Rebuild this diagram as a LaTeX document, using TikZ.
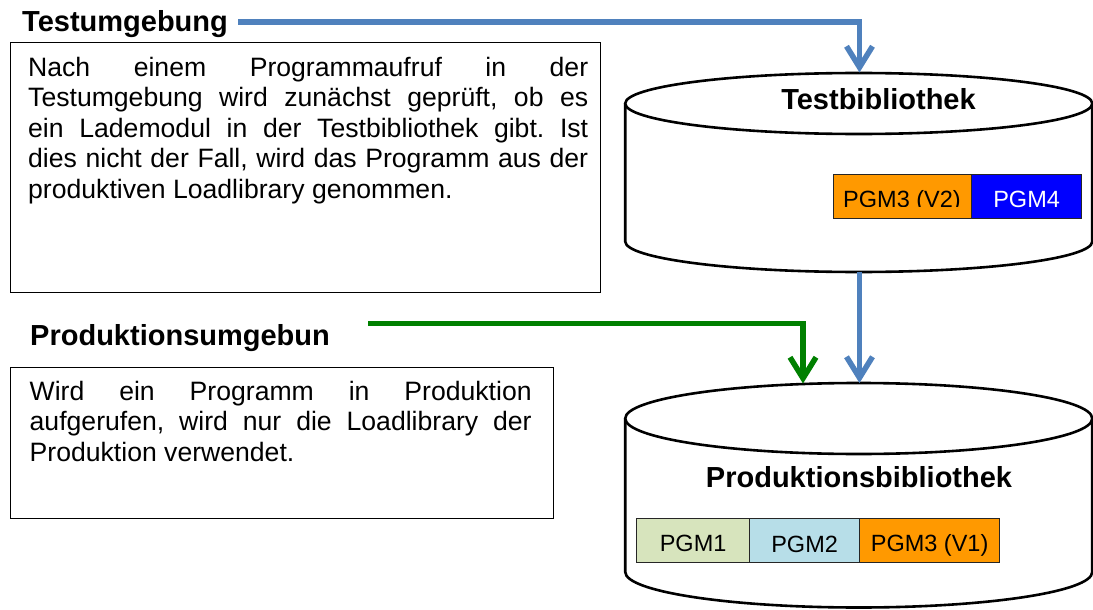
\documentclass[tikz,border=0pt]{standalone}
\usepackage{fontspec}
\setmainfont{Liberation Sans}
\usetikzlibrary{arrows.meta}

\definecolor{flowblue}{RGB}{79,129,189}
\definecolor{flowgreen}{RGB}{0,128,0}
\definecolor{pgmorange}{RGB}{255,153,0}
\definecolor{pgmblue}{RGB}{0,0,255}
\definecolor{pgmgreen}{RGB}{215,228,189}
\definecolor{pgmcyan}{RGB}{183,222,232}

\newcommand\bodyfont{\fontsize{26.6}{30.5}\selectfont}
\newcommand\headfont{\fontsize{29}{34}\selectfont\bfseries}
\newcommand\pgmfont{\fontsize{23.5}{28}\selectfont}
\frenchspacing

\begin{document}
\begin{tikzpicture}[x=1pt,y=-1pt,
  title/.style={font=\headfont, inner sep=0pt, anchor=base west},
  cyllabel/.style={font=\headfont, inner sep=0pt, anchor=base},
  descbox/.style={draw=black, line width=1.3pt},
  desctext/.style={font=\bodyfont, inner sep=0pt, anchor=base west},
  cyl/.style={draw=black, line width=2.6pt, fill=white},
  pgmbox/.style={draw=black!85, line width=1.2pt, inner sep=0pt,
    minimum height=44pt, anchor=north west, font=\pgmfont,
    text height=22pt, text depth=0pt},
  flow/.style={line width=5.5pt, -{Straight Barb[length=21pt,width=26pt]}}]

% canvas
\fill[white] (0,0) rectangle (1093,610);
\useasboundingbox (0,0) rectangle (1093,610);

% ---------- test environment ----------
\node[title] (tu) at (22,32) {Testumgebung};
\node[descbox, anchor=north west, minimum width=590pt, minimum height=249.5pt,
  inner sep=0pt] (box1) at (10,42) {};
\node[desctext] (txt1) at (28,76.5) {\parbox[t]{560pt}{%
  \makebox[560pt][s]{Nach einem Programmaufruf in der}\\
  \makebox[560pt][s]{Testumgebung wird zunächst geprüft, ob es}\\
  \makebox[560pt][s]{ein Lademodul in der Testbibliothek gibt. Ist}\\
  \makebox[560pt][s]{dies nicht der Fall, wird das Programm aus der}\\
  produktiven Loadlibrary genommen.}};

% ---------- production environment ----------
\node[title] (pu) at (30,345) {Produktionsumgebun};
\node[descbox, anchor=north west, minimum width=543pt, minimum height=151.5pt,
  inner sep=0pt] (box2) at (10,366.5) {};
\node[desctext] (txt2) at (29.5,400) {\parbox[t]{502pt}{%
  \makebox[502pt][s]{Wird ein Programm in Produktion}\\
  \makebox[502pt][s]{aufgerufen, wird nur die Loadlibrary der}\\
  Produktion verwendet.}};

% ---------- test library cylinder ----------
\draw[cyl] (625.25,103.5) -- (625.25,241.5)
  arc[start angle=180, end angle=0, x radius=233.5, y radius=30.5]
  -- (1092.25,103.5);
\draw[cyl] (858.75,103.5) ellipse[x radius=233.5, y radius=30.5];
\coordinate (ttop) at (859.5,72.5);
\coordinate (tbot) at (859.5,271.5);
\node[cyllabel] (tlib) at (878.5,110) {Testbibliothek};

\node[pgmbox, fill=pgmorange, minimum width=138pt] (v2) at (833,174) {};
\begin{scope}
  \clip (833,174) rectangle (971,206.5);
  \node[font=\pgmfont, inner sep=0pt, anchor=base] (v2t) at (902,207) {PGM3 (V2)};
\end{scope}
\node[pgmbox, fill=pgmblue, text=white, minimum width=110pt,
  text height=21pt] (p4) at (971,174) {PGM4};

% ---------- production library cylinder ----------
\draw[cyl] (625.25,418.5) -- (625.25,572)
  arc[start angle=180, end angle=0, x radius=233.5, y radius=35.5]
  -- (1092.25,418.5);
\draw[cyl] (858.75,418.5) ellipse[x radius=233.5, y radius=35.5];
\coordinate (ptop) at (859.5,383);
\coordinate (ptopg) at (803,383.5);
\node[cyllabel] (plib) at (859,487) {Produktionsbibliothek};

\node[pgmbox, fill=pgmgreen, minimum width=113pt] (p1) at (636,518) {PGM1};
\node[pgmbox, fill=pgmcyan, minimum width=110pt, text height=24pt] (p2) at (749,518) {PGM2};
\node[pgmbox, fill=pgmorange, minimum width=140pt] (v1) at (859,518) {PGM3 (V1)};

% ---------- flow arrows ----------
\coordinate (bs) at (238,22);
\coordinate (gs) at (368,323.5);
\draw[flow, flowblue] (bs) -| (ttop);
\draw[flow, flowblue] (tbot) -- (ptop);
\draw[flow, flowgreen] (gs) -| (ptopg);
\end{tikzpicture}
\end{document}
